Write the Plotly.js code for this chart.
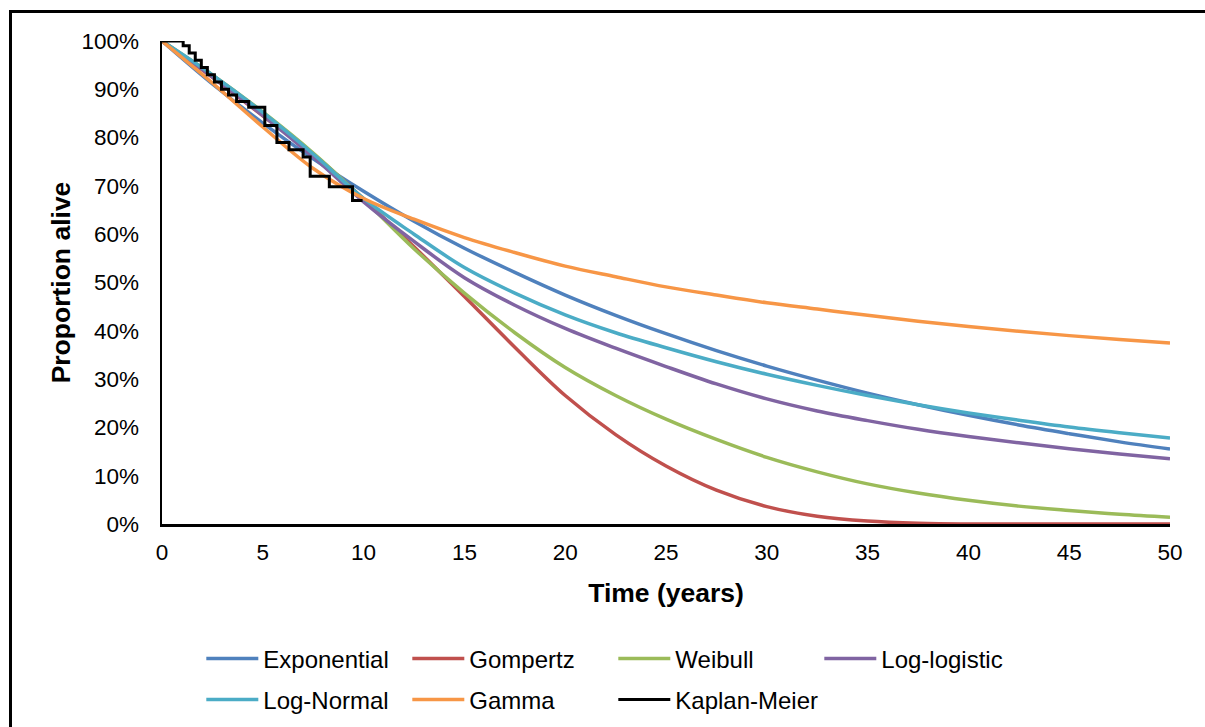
<!DOCTYPE html>
<html>
<head>
<meta charset="utf-8">
<script src="https://cdn.plot.ly/plotly-3.0.1.min.js"></script>
<style>
  html, body { margin: 0; padding: 0; background: #fff; }
  #wrap { position: relative; width: 1205px; height: 727px; overflow: hidden; }
  #chart { position: absolute; left: 0; top: 0; width: 1205px; height: 727px; }
  #frame { position: absolute; left: 9px; top: 10px; right: -5px; bottom: -5px;
           border-top: 3px solid #000; border-left: 3px solid #000; pointer-events: none; }
</style>
</head>
<body>
<div id="wrap">
  <div id="chart"></div>
  <div id="frame"></div>
</div>
<script>
// ---- Data ----
const seriesNames = ["Exponential", "Gompertz", "Weibull", "Log-logistic", "Log-Normal", "Gamma", "Kaplan-Meier"];
const seriesColors = ["#4F81BD", "#C0504D", "#9BBB59", "#8064A2", "#4BACC6", "#F79646", "#000000"];

const timeYears = [0, 2.5, 5, 7.5, 10, 12.5, 15, 17.5, 20, 22.5, 25, 27.5, 30, 32.5, 35, 37.5, 40, 42.5, 45, 47.5, 50];

const exponential = [100, 91.1, 83.0, 75.6, 68.9, 62.7, 57.1, 52.1, 47.4, 43.2, 39.4, 35.9, 32.7, 29.8, 27.1, 24.7, 22.5, 20.5, 18.7, 17.0, 15.5];
const gompertz    = [100, 92.5, 84.5, 76.6, 67.3, 57.4, 47.1, 36.6, 26.6, 18.5, 12.0, 7.0, 3.6, 1.6, 0.6, 0.15, 0, 0, 0, 0, 0];
const weibull     = [100, 93.0, 85.3, 76.8, 67.2, 57.0, 47.8, 39.6, 32.4, 26.6, 21.7, 17.5, 13.8, 10.8, 8.3, 6.4, 4.9, 3.7, 2.8, 2.0, 1.4];
const logLogistic = [100, 92.6, 84.6, 76.0, 66.7, 58.5, 51.0, 45.3, 40.5, 36.4, 32.6, 29.0, 25.9, 23.4, 21.4, 19.6, 18.1, 16.8, 15.6, 14.5, 13.5];
const logNormal   = [100, 93.0, 85.2, 76.6, 67.4, 60.0, 53.1, 47.8, 43.3, 39.6, 36.5, 33.6, 31.0, 28.7, 26.6, 24.7, 23.0, 21.5, 20.1, 18.9, 17.8];
const gamma       = [100, 91.3, 82.2, 73.6, 67.4, 63.1, 59.3, 56.2, 53.4, 51.2, 49.1, 47.4, 45.8, 44.5, 43.2, 42.0, 40.9, 39.9, 39.0, 38.2, 37.5];

const kmTime     = [0, 1.05, 1.35, 1.65, 1.95, 2.25, 2.6, 2.95, 3.3, 3.7, 4.3, 5.1, 5.7, 6.3, 7.0, 7.35, 8.3, 9.45, 9.95];
const kmSurvival = [100, 99, 97.5, 96, 94.5, 93, 91.5, 90, 88.8, 87.5, 86.3, 82.5, 79, 77.5, 76, 72, 69.8, 67, 67];

const xTickVals = [0, 5, 10, 15, 20, 25, 30, 35, 40, 45, 50];
const yTickVals = [0, 10, 20, 30, 40, 50, 60, 70, 80, 90, 100];

// ---- Traces ----
const fitted = [exponential, gompertz, weibull, logLogistic, logNormal, gamma];
const traces = fitted.map((vals, i) => ({
  type: "scatter", mode: "lines",
  x: timeYears, y: vals,
  name: seriesNames[i],
  line: { color: seriesColors[i], width: 3.5, shape: "spline", smoothing: 1.0 },
  legend: i < 4 ? "legend" : "legend2",
  hoverinfo: "skip"
}));
traces.push({
  type: "scatter", mode: "lines",
  x: kmTime, y: kmSurvival,
  name: seriesNames[6],
  line: { color: seriesColors[6], width: 3, shape: "hv" },
  legend: "legend2",
  hoverinfo: "skip"
});

const fontFam = "Liberation Sans, Arial, sans-serif";
const tickFont = { family: fontFam, size: 22.5, color: "#000" };
const legendFont = { family: fontFam, size: 24, color: "#000" };

const legendCommon = {
  orientation: "h",
  font: legendFont,
  bgcolor: "rgba(0,0,0,0)",
  borderwidth: 0,
  entrywidth: 139,
  entrywidthmode: "pixels",
  itemwidth: 52,
  xanchor: "left",
  yanchor: "middle",
  traceorder: "normal",
  itemclick: false,
  itemdoubleclick: false
};

const layout = {
  width: 1205, height: 727,
  paper_bgcolor: "#fff", plot_bgcolor: "#fff",
  margin: { l: 162, r: 35, t: 41, b: 203, autoexpand: false },
  font: tickFont,
  showlegend: true,
  xaxis: {
    range: [0, 50], tickvals: xTickVals, ticktext: xTickVals.map(String),
    showgrid: false, zeroline: false, automargin: false,
    showline: true, linecolor: "#000", linewidth: 2.5,
    ticks: "", ticklabelstandoff: 6,
    tickfont: tickFont,
    title: { text: "<b>Time (years)</b>", font: { family: fontFam, size: 26.5, color: "#000" }, standoff: 20 },
    fixedrange: true
  },
  yaxis: {
    range: [0, 100], tickvals: yTickVals, ticktext: yTickVals.map(v => v + "%"),
    showgrid: false, zeroline: false, automargin: false,
    showline: true, linecolor: "#000", linewidth: 2.5,
    ticks: "", ticklabelstandoff: 16,
    tickfont: tickFont,
    title: { text: "<b>Proportion alive</b>", font: { family: fontFam, size: 26.5, color: "#000" }, standoff: 3 },
    fixedrange: true
  },
  legend: Object.assign({}, legendCommon, { x: 0.039, y: -0.2795 }),
  legend2: Object.assign({}, legendCommon, { x: 0.039, y: -0.3644 })
};

Plotly.newPlot("chart", traces, layout, { displayModeBar: false, staticPlot: true });
</script>
</body>
</html>
